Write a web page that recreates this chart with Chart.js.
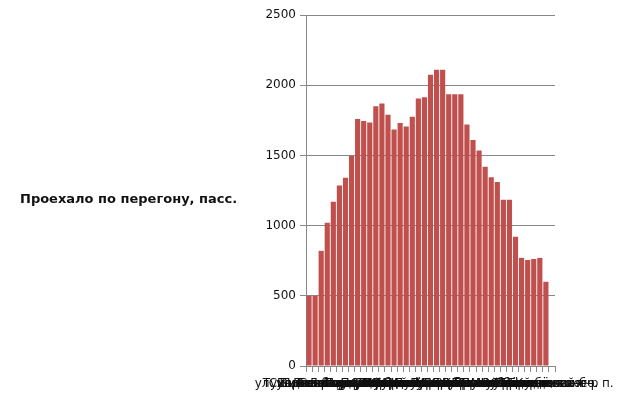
<!DOCTYPE html>
<html>
<head>
<meta charset="utf-8">
<script src="https://cdn.jsdelivr.net/npm/chart.js@4"></script>
<style>
  html, body { margin: 0; padding: 0; background: #fff; }
  #wrap { width: 624px; height: 399px; }
</style>
</head>
<body>
<div id="wrap"><canvas id="grafico" width="624" height="399"></canvas></div>
<script>
const ostanovki = [
  "Тушинская пл.", "ул. Свободы", "Сходненская ул.", "Планерная ул.", "ул. Героев Панфиловцев",
  "Больница №6", "Кинотеатр «Байкал»", "Волоколамское ш.", "Пос. Сокол", "Ст. м. Сокол",
  "Ленинградский пр.", "ул. Алабяна", "Песчаная пл.", "ул. Панфилова", "пл. Курчатова",
  "ул. Максимова", "Ст. м. Щукинская", "ул. Маршала Бирюзова", "ул. Народного Ополчения", "Хорошёвское ш.",
  "Мост", "Ст. м. Полежаевская", "Магазин «Ткани»", "ул. Генерала Глаголева", "ул. Берзарина",
  "Ст. м. Октябрьское поле", "ул. Живописная", "Серебряный бор", "Карамышевская наб.", "ул. Демьяна Бедного",
  "ул. Мневники", "Школа", "Поликлиника", "Крылатский мост", "ул. Ярцевская",
  "Ст. м. Молодёжная", "Рублёвское ш.", "ул. Кулакова", "ул. Твардовского", "Строгинский б-р",
  "Строгино, конеч. п."
];

const passazhiry = [
  500, 500, 820, 1020, 1170, 1285, 1340, 1495, 1760, 1745,
  1735, 1850, 1870, 1790, 1685, 1730, 1705, 1775, 1905, 1915,
  2075, 2110, 2110, 1935, 1935, 1935, 1720, 1610, 1535, 1420,
  1345, 1310, 1185, 1185, 920, 770, 755, 762, 770, 600,
  null
];

const ticksY = [0, 500, 1000, 1500, 2000, 2500];

const tituloY = {
  id: 'tituloY',
  afterDraw(chart) {
    const ctx = chart.ctx;
    ctx.save();
    ctx.font = 'bold 13px "DejaVu Sans"';
    ctx.fillStyle = '#111';
    ctx.textAlign = 'left';
    ctx.textBaseline = 'middle';
    ctx.fillText("Проехало по перегону, пасс.", 20, 200);
    ctx.restore();
  }
};

new Chart(document.getElementById("grafico"), {
  type: 'bar',
  data: {
    labels: ostanovki,
    datasets: [{
      data: passazhiry,
      backgroundColor: '#C0504D',
      borderWidth: 0,
      barPercentage: 0.85,
      categoryPercentage: 1
    }]
  },
  options: {
    responsive: false,
    animation: false,
    layout: { padding: { left: 0, right: 69, top: 15, bottom: 0 } },
    plugins: { legend: { display: false }, tooltip: { enabled: false } },
    scales: {
      x: {
        grid: { drawOnChartArea: false, drawTicks: true, tickLength: 6, color: '#888', offset: true },
        border: { color: '#888' },
        ticks: {
          autoSkip: false, maxRotation: 0, minRotation: 0,
          color: '#111', font: { family: 'DejaVu Sans', size: 12 }, padding: 5
        },
        afterFit(scale) { scale.height = 33; }
      },
      y: {
        min: 0, max: 2500,
        afterBuildTicks(scale) { scale.ticks = ticksY.map(v => ({ value: v })); },
        grid: { color: '#888', tickLength: 6 },
        border: { color: '#888' },
        ticks: {
          color: '#111', font: { family: 'DejaVu Sans', size: 12 }, padding: 4,
          callback: v => String(v)
        },
        afterFit(scale) { scale.width = 306; }
      }
    }
  },
  plugins: [tituloY]
});
</script>
</body>
</html>
